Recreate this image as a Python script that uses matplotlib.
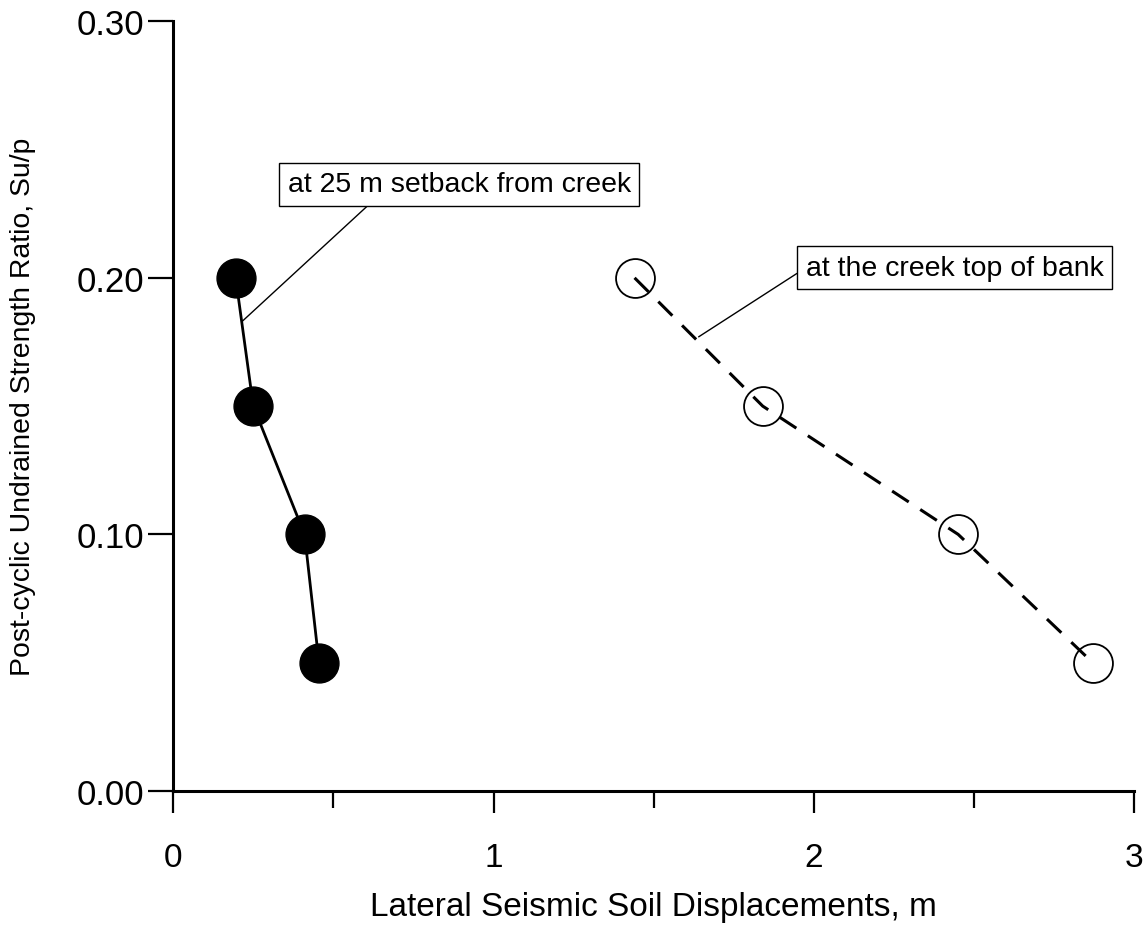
import matplotlib
matplotlib.use("Agg")
import matplotlib.pyplot as plt
from matplotlib.ticker import MultipleLocator, FormatStrFormatter

plt.rcParams['font.family'] = ['Liberation Sans', 'DejaVu Sans']

# data
ratio = [0.20, 0.15, 0.10, 0.05]
disp_setback = [0.195, 0.25, 0.41, 0.455]
disp_bank = [1.44, 1.84, 2.45, 2.87]

fig = plt.figure(figsize=(11.47, 9.28), dpi=100)
ax = fig.add_axes([0.151, 0.1466, 0.838, 0.8294])

# 25 m setback: filled circles, solid line
ax.plot(disp_setback, ratio, color='black', lw=2, marker='o', ms=28,
        mfc='black', mec='black', zorder=3)

# creek top of bank: open circles, dashed line
ax.plot(disp_bank, ratio, color='black', lw=0, marker='o', ms=28,
        mfc='none', mec='black', mew=1.3, zorder=3)
ax.plot(disp_bank, ratio, color='black', lw=2.2, ls=(0, (6.5, 4.5)), zorder=4)

box = dict(boxstyle='square,pad=0.3', fc='white', ec='black', lw=1)
ax.annotate('at 25 m setback from creek', xy=(0.215, 0.183), xytext=(0.893, 0.2365),
            textcoords='data', ha='center', va='center', fontsize=20.5, bbox=box,
            arrowprops=dict(arrowstyle='-', color='black', lw=1, relpos=(0.26, 0.0),
                            shrinkA=0, shrinkB=0))
ax.annotate('at the creek top of bank', xy=(1.64, 0.177), xytext=(2.44, 0.204),
            textcoords='data', ha='center', va='center', fontsize=20.5, bbox=box,
            arrowprops=dict(arrowstyle='-', color='black', lw=1, relpos=(0.0, 0.5),
                            shrinkA=0, shrinkB=0))

ax.set_xlim(0, 3)
ax.set_ylim(0, 0.30)
ax.xaxis.set_major_locator(MultipleLocator(1))
ax.xaxis.set_minor_locator(MultipleLocator(0.5))
ax.yaxis.set_major_locator(MultipleLocator(0.10))
ax.yaxis.set_major_formatter(FormatStrFormatter('%.2f'))

for side in ['top', 'right']:
    ax.spines[side].set_visible(False)
for side in ['left', 'bottom']:
    ax.spines[side].set_linewidth(2.2)

ax.tick_params(axis='x', which='major', direction='out', length=16, width=1.6,
               labelsize=24, pad=21)
ax.tick_params(axis='x', which='minor', direction='out', length=12, width=1.6)
ax.tick_params(axis='y', which='major', direction='out', length=18, width=1.6,
               labelsize=25, pad=3)

ax.set_xlabel('Lateral Seismic Soil Displacements, m', fontsize=24)
ax.xaxis.set_label_coords(0.4995, -0.130)
ax.set_ylabel('Post-cyclic Undrained Strength Ratio, Su/p', fontsize=20.4)
ax.yaxis.set_label_coords(-0.143, 0.5)

fig.savefig('out.png', dpi=100)
